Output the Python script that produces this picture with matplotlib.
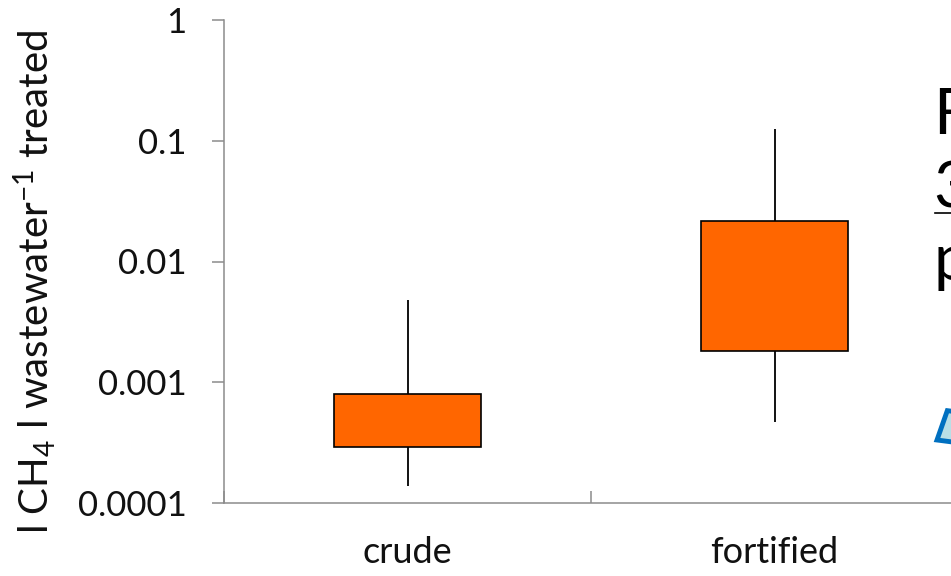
import matplotlib.pyplot as plt
from matplotlib.patches import Rectangle

categories = ["crude", "fortified"]
whisker_low = [0.000138, 0.00047]
box_low = [0.00029, 0.0018]
box_high = [0.0008, 0.0216]
whisker_high = [0.0048, 0.125]
y_ticks = [0.0001, 0.001, 0.01, 0.1, 1]
y_tick_labels = ["0.0001", "0.001", "0.01", "0.1", "1"]

plt.rcParams["mathtext.fontset"] = "custom"
plt.rcParams["mathtext.rm"] = "Lato"
plt.rcParams["mathtext.it"] = "Lato"

fig = plt.figure(figsize=(9.51, 5.76), dpi=100)
ax = fig.add_axes([224 / 951, 73 / 576, 734 / 951, 483 / 576])

font = "Lato"
axis_grey = "#8c8c8c"
orange = "#ff6600"
text_col = "#111111"

pos = [0.5, 1.5]
for x, wl, bl, bh, wh in zip(pos, whisker_low, box_low, box_high, whisker_high):
    ax.vlines(x, wl, bl, color="black", linewidth=1.3, zorder=2)
    ax.vlines(x, bh, wh, color="black", linewidth=1.3, zorder=2)
    ax.bar(x, bh - bl, bottom=bl, width=0.4, color=orange,
           edgecolor="black", linewidth=1.2, zorder=3)

ax.set_yscale("log")
ax.set_ylim(0.0001, 1)
ax.set_xlim(0, 2)
ax.set_yticks(y_ticks)
ax.set_yticklabels(y_tick_labels, fontfamily=font, fontsize=25, color=text_col)
ax.minorticks_off()
ax.tick_params(axis="y", which="major", direction="out", length=9,
               width=1.1, color=axis_grey, pad=18)

ax.set_xticks([0, 1, 2])
ax.set_xticklabels([])
ax.tick_params(axis="x", which="major", direction="in", length=9,
               width=1.1, color=axis_grey)
ax.set_xticks(pos, minor=True)
ax.set_xticklabels(categories, minor=True, fontfamily=font, fontsize=26,
                   color=text_col)
ax.tick_params(axis="x", which="minor", length=0, pad=24)

for side in ["top", "right"]:
    ax.spines[side].set_visible(False)
for side in ["left", "bottom"]:
    ax.spines[side].set_color(axis_grey)
    ax.spines[side].set_linewidth(1.1)

fig.text(35 / 951, 0.51, r"l CH$_4$ l wastewater$^{-1}$ treated", rotation=90,
         ha="center", va="center", fontfamily=font, fontsize=29,
         color=text_col)

# slide text cut off at the right edge
for txt, yy in [("F", 116), ("3", 190), ("p", 262)]:
    fig.text(933 / 951, 1 - yy / 576, txt, ha="left", va="center",
             fontfamily=font, fontsize=46, color="black")
fig.add_artist(plt.Line2D([935 / 951, 1], [1 - 213 / 576, 1 - 213 / 576],
                          color="black", linewidth=1.2))
sq = Rectangle((937 / 951, 1 - 440 / 576), 30 / 951, 30 / 576, angle=-12,
               transform=fig.transFigure, facecolor="#b9dfe6",
               edgecolor="#0070c0", linewidth=3.5)
fig.add_artist(sq)

fig.savefig("out.png", dpi=100)
